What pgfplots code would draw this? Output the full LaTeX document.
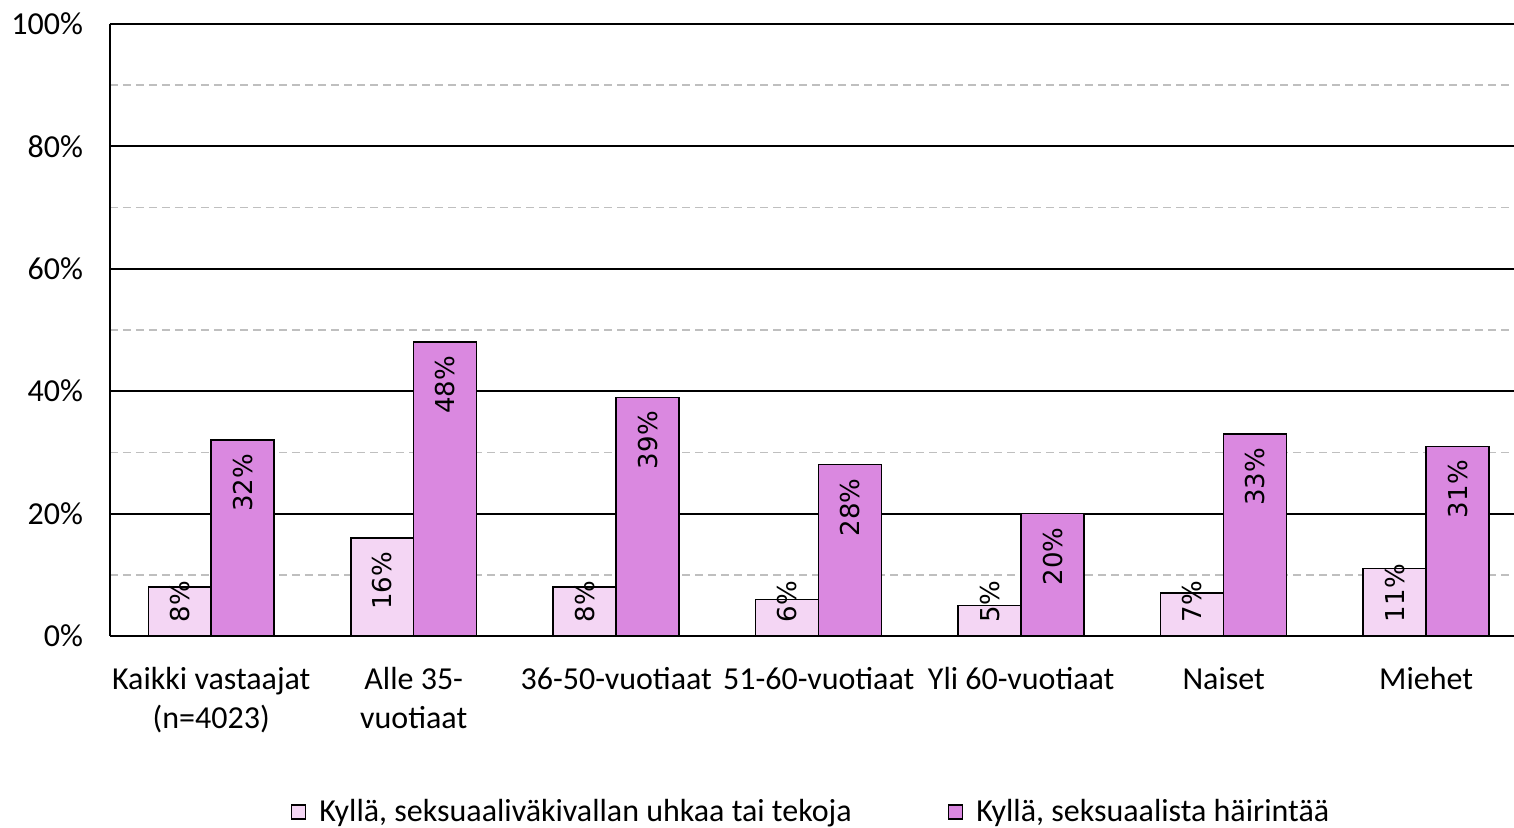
\documentclass[border=0pt]{standalone}
\usepackage{fontspec}
\setmainfont{Carlito}
\newfontfamily\labfont{DejaVu Sans}
\usepackage{pgfplots}
\pgfplotsset{compat=1.18}

\definecolor{lightpink}{HTML}{F4D6F4}
\definecolor{orchid}{HTML}{DA88E0}

\begin{document}
\begin{tikzpicture}
\begin{axis}[
    scale only axis,
    width=702pt, height=306pt,
    xmin=-0.5, xmax=6.434,
    ymin=0, ymax=100,
    axis x line*=bottom,
    axis y line*=left,
    axis line style={black, line width=1pt},
    xtick={0,1,2,3,4,5,6},
    xticklabels={{Kaikki vastaajat\\(n=4023)},{Alle 35-\\vuotiaat},{36-50-vuotiaat},{51-60-vuotiaat},{Yli 60-vuotiaat},{Naiset},{Miehet}},
    xticklabel style={align=center, yshift=-12pt, font=\fontsize{16}{19.5}\selectfont},
    ytick={0,20,40,60,80,100},
    yticklabels={0\%,20\%,40\%,60\%,80\%,100\%},
    minor ytick={10,30,50,70,90},
    yticklabel style={xshift=-10pt, font=\fontsize{16}{19.5}\selectfont},
    major tick length=0pt, minor tick length=0pt,
    ymajorgrids, yminorgrids,
    major grid style={black, line width=1pt},
    minor grid style={gray!50, line width=0.8pt, dash pattern=on 4pt off 2.5pt},
    legend style={at={(0.5,-0.2876)}, anchor=center, draw=none,
        font=\fontsize{16}{19.5}\selectfont,
        legend columns=2,
        /tikz/every even column/.append style={column sep=46pt}},
    legend image code/.code={\draw[#1, line width=0.6pt] (0pt,-3.5pt) rectangle (7pt,3.5pt);
        \path[draw=none, fill=none] (0pt,0pt) -- (12pt,0pt);},
    legend cell align={left},
]
\coordinate (sw) at (rel axis cs:0,0);
\draw[black, line width=1pt] (rel axis cs:0,1) -- (rel axis cs:1,1);

\addplot[ybar, bar width=0.311, bar shift=-0.1555, fill=lightpink, draw=black, line width=0.75pt]
  coordinates {(0,8) (1,16) (2,8) (3,6) (4,5) (5,7) (6,11)};
\addlegendentry{Kyllä, seksuaaliväkivallan uhkaa tai tekoja}
\addplot[ybar, bar width=0.311, bar shift=0.1555, fill=orchid, draw=black, line width=0.75pt]
  coordinates {(0,32) (1,48) (2,39) (3,28) (4,20) (5,33) (6,31)};
\addlegendentry{Kyllä, seksuaalista häirintää}

\addplot[forget plot, draw=none, mark=none, nodes near coords, point meta=explicit symbolic,
    every node near coord/.style={rotate=90, anchor=center, inner sep=0pt, font=\labfont\fontsize{13}{15}\selectfont}]
  coordinates {(-0.1555,5.6) [8\%] (0.8445,9.0) [16\%] (1.8445,5.6) [8\%] (2.8445,5.6) [6\%]
               (3.8445,5.6) [5\%] (4.8445,5.6) [7\%] (5.8445,7.0) [11\%]};
\addplot[forget plot, draw=none, mark=none, nodes near coords, point meta=explicit symbolic,
    every node near coord/.style={rotate=90, anchor=center, inner sep=0pt, font=\labfont\fontsize{13}{15}\selectfont}]
  coordinates {(0.1555,25.0) [32\%] (1.1555,41.0) [48\%] (2.1555,32.0) [39\%] (3.1555,21.0) [28\%]
               (4.1555,13.0) [20\%] (5.1555,26.0) [33\%] (6.1555,24.0) [31\%]};
\end{axis}
\pgfresetboundingbox
\path ([shift={(-55pt,-96pt)}]sw) rectangle ([shift={(702pt,318pt)}]sw);
\end{tikzpicture}
\end{document}
